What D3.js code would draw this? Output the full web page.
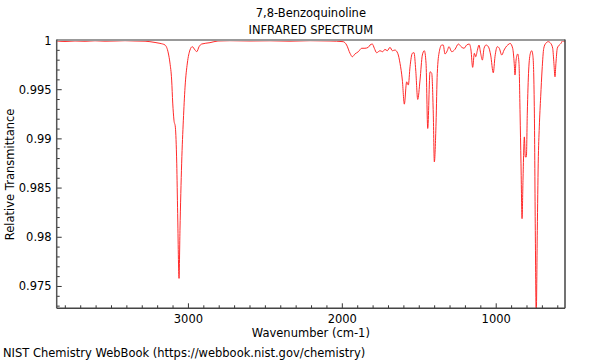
<!DOCTYPE html>
<html><head><meta charset="utf-8">
<script src="https://cdn.jsdelivr.net/npm/d3@7"></script>
<style>body{margin:0;background:#fff} svg{display:block} text{font-family:"DejaVu Sans",sans-serif;fill:#000}</style>
</head><body><svg id="chart" width="600" height="360"></svg>
<script>
const titleLines = ["7,8-Benzoquinoline", "INFRARED SPECTRUM"];
const xTitle = "Wavenumber (cm-1)";
const yTitle = "Relative Transmittance";
const footer = "NIST Chemistry WebBook (https://webbook.nist.gov/chemistry)";

const wavenumber = [3854,3802,3737,3672,3607,3542,3477,3412,3347,3282,3250,3217,3185,3152,3131,3120,3109,3102,3094,3085,3076,3070,3061,3055,3044,3033,3022,3007,2990,2975,2957,2946,2931,2914,2860,2808,2730,2600,2470,2340,2210,2080,1994,1972,1950,1935,1918,1896,1874,1853,1831,1820,1805,1792,1777,1755,1738,1723,1708,1690,1675,1658,1640,1625,1610,1597,1582,1571,1560,1545,1534,1523,1510,1495,1480,1467,1456,1445,1430,1419,1409,1402,1391,1383,1370,1354,1344,1333,1318,1307,1289,1268,1246,1224,1209,1192,1175,1164,1153,1142,1133,1123,1112,1101,1090,1079,1066,1051,1036,1019,1008,993,980,964,949,932,917,910,893,883,878,871,860,852,845,839,832,826,817,811,804,798,789,778,769,761,752,746,740,733,727,720,711,702,691,678,662,646,633,625,618,612,603,590,579,568,558,553];
const transmittance = [0.99995,0.9999,0.99995,0.99992,0.99997,0.99993,0.99995,0.99998,0.99995,0.99993,0.99988,0.9998,0.99971,0.99954,0.99873,0.99771,0.99598,0.99364,0.9919,0.99119,0.98753,0.98243,0.97582,0.9807,0.98753,0.9919,0.99526,0.99771,0.99903,0.99937,0.99903,0.99886,0.99937,0.99964,0.99978,0.99995,0.99998,0.99995,0.99997,0.99993,0.99998,0.99995,0.99988,0.99954,0.9987,0.99835,0.99863,0.99886,0.99921,0.99921,0.99931,0.99954,0.99964,0.99921,0.99876,0.99896,0.99886,0.9991,0.99896,0.99931,0.99896,0.99903,0.9987,0.99768,0.99598,0.99353,0.9958,0.99547,0.99733,0.9987,0.99876,0.997,0.99401,0.99598,0.99852,0.99896,0.99768,0.99106,0.99682,0.99666,0.99262,0.98766,0.9916,0.99666,0.99886,0.99954,0.99954,0.99863,0.99896,0.99937,0.99886,0.9991,0.99964,0.99931,0.99921,0.99954,0.99964,0.99903,0.99727,0.9987,0.99835,0.99896,0.99954,0.9987,0.99801,0.99921,0.99954,0.99937,0.99852,0.99672,0.99835,0.99937,0.99921,0.99852,0.99903,0.99944,0.99964,0.99971,0.99921,0.99768,0.99649,0.99801,0.99863,0.99768,0.99262,0.98753,0.98189,0.98579,0.9902,0.98817,0.98817,0.99262,0.997,0.9987,0.99896,0.99835,0.99262,0.9807,0.972,0.9807,0.98753,0.99122,0.99428,0.997,0.99921,0.99971,0.99988,0.99971,0.99921,0.99768,0.99631,0.99768,0.99921,0.99954,0.99971,0.99998,0.99988,0.99988];

const xMajorTicks = [3000, 2000, 1000];
const xTickLabels = ["3000", "2000", "1000"];
const xMinorTicks = [3800,3700,3600,3500,3400,3300,3200,3100,2900,2800,2700,2600,2500,2400,2300,2200,2100,1900,1800,1700,1600,1500,1400,1300,1200,1100,900,800,700,600];
const yMajorTicks = [1, 0.995, 0.99, 0.985, 0.98, 0.975];
const yTickLabels = ["1", "0.995", "0.99", "0.985", "0.98", "0.975"];
const yMinorTicks = [0.999,0.998,0.997,0.996,0.994,0.993,0.992,0.991,0.989,0.988,0.987,0.986,0.984,0.983,0.982,0.981,0.979,0.978,0.977,0.976,0.974,0.973];
const xDomain = [3856, 553];
const yDomain = [0.97278, 1.0];

const FS = 11.5;
const L = 56.7, R = 565, T = 40.5, B = 308.3;
const svg = d3.select("#chart");
const x = d3.scaleLinear().domain(xDomain).range([L, R]);
const y = d3.scaleLinear().domain(yDomain).range([B, T]);

svg.append("defs").append("clipPath").attr("id","clip")
  .append("rect").attr("x", L).attr("y", T - 1).attr("width", R - L).attr("height", B - T + 1);

const data = wavenumber.map((w, i) => ({w, t: transmittance[i]}));
const line = d3.line().x(d => x(d.w)).y(d => y(d.t)).curve(d3.curveMonotoneX);
svg.append("path").datum(data).attr("clip-path","url(#clip)")
  .attr("d", line).attr("fill","none").attr("stroke","#ff2a2a").attr("stroke-width",1);

// ticks
const g = svg.append("g");
yMajorTicks.forEach((v, i) => {
  g.append("line").attr("x1", L).attr("x2", L + 5).attr("y1", y(v)).attr("y2", y(v)).attr("stroke","#333");
  g.append("text").attr("x", L - 5).attr("y", y(v)).attr("dy","0.35em").attr("text-anchor","end")
    .attr("font-size", FS).text(yTickLabels[i]);
});
yMinorTicks.forEach(v => {
  g.append("line").attr("x1", L).attr("x2", L + 3).attr("y1", y(v)).attr("y2", y(v)).attr("stroke","#333");
});
xMajorTicks.forEach((v, i) => {
  g.append("line").attr("x1", x(v)).attr("x2", x(v)).attr("y1", B).attr("y2", B - 5).attr("stroke","#333");
  g.append("text").attr("x", x(v)).attr("y", B + 15).attr("text-anchor","middle")
    .attr("font-size", FS).text(xTickLabels[i]);
});
xMinorTicks.forEach(v => {
  g.append("line").attr("x1", x(v)).attr("x2", x(v)).attr("y1", B).attr("y2", B - 3).attr("stroke","#333");
});

// frame
svg.append("line").attr("x1", L).attr("x2", R).attr("y1", T - 0.5).attr("y2", T - 0.5).attr("stroke","#999").attr("stroke-width",2);
svg.append("line").attr("x1", R).attr("x2", R).attr("y1", T - 1).attr("y2", B).attr("stroke","#444").attr("stroke-width",1.5);
svg.append("line").attr("x1", L).attr("x2", L).attr("y1", T - 1).attr("y2", B).attr("stroke","#555").attr("stroke-width",1.5);
svg.append("line").attr("x1", L).attr("x2", R).attr("y1", B).attr("y2", B).attr("stroke","#444").attr("stroke-width",1.5);

// titles
svg.append("text").attr("x", (L + R) / 2).attr("y", 17).attr("text-anchor","middle").attr("font-size",FS).text(titleLines[0]);
svg.append("text").attr("x", (L + R) / 2).attr("y", 34).attr("text-anchor","middle").attr("font-size",FS).text(titleLines[1]);
svg.append("text").attr("x", (L + R) / 2).attr("y", 337).attr("text-anchor","middle").attr("font-size",FS).text(xTitle);
svg.append("text").attr("transform", `translate(14,${(T + B) / 2}) rotate(-90)`).attr("text-anchor","middle").attr("font-size",FS).text(yTitle);
svg.append("text").attr("x", 3).attr("y", 357).attr("font-size",FS).text(footer);
</script></body></html>
